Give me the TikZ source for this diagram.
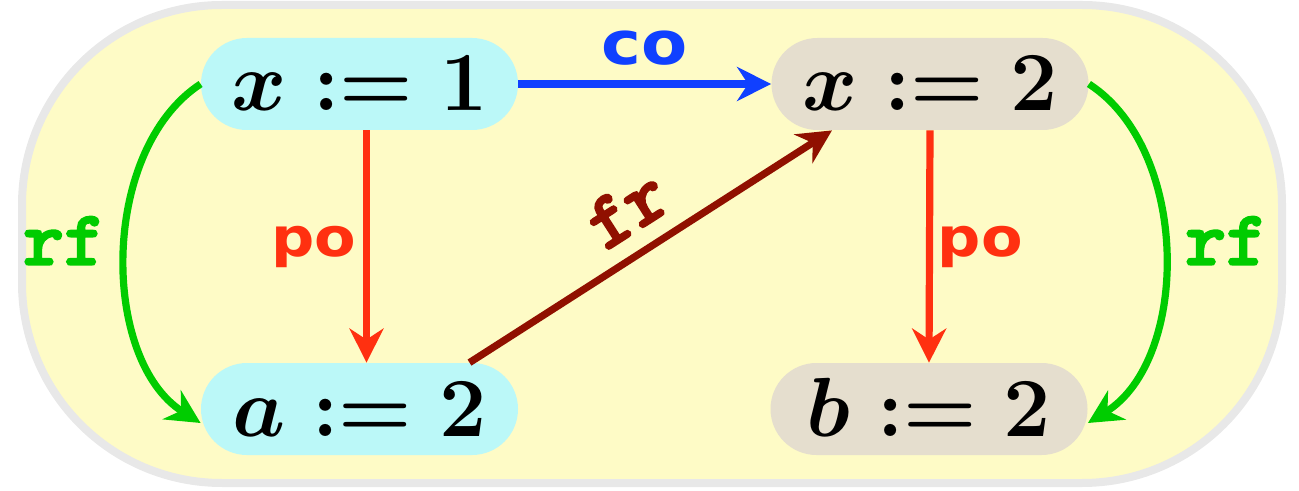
\documentclass[tikz,border=0pt]{standalone}
\usepackage{fix-cm}
\usepackage{graphicx}
\usepackage{fontspec}
\usetikzlibrary{arrows.meta}
\newfontfamily\lblsansfont{DejaVu Sans Bold}
\newfontfamily\lblmonofont{lmmonolt10-bold.otf}[BoldFont=lmmonolt10-bold.otf, BoldFeatures={FakeBold=2.5}]
\definecolor{evcyan}{RGB}{187,248,248}
\definecolor{evbeige}{RGB}{229,222,206}
\definecolor{blobyellow}{RGB}{254,251,198}
\definecolor{blobgray}{RGB}{232,232,232}
\definecolor{coblue}{RGB}{16,64,255}
\definecolor{pored}{RGB}{255,48,16}
\definecolor{frred}{RGB}{144,16,0}
\definecolor{rfgreen}{RGB}{0,204,0}
\newcommand\sanslbl[2]{\scalebox{1.12}[1]{\lblsansfont\fontsize{#1}{#1}\selectfont #2}}
\newcommand\monolbl[1]{{\lblmonofont\bfseries\fontsize{39}{39}\selectfont #1}}
\tikzset{
  ev/.style={rounded corners=23pt, minimum width=158.5pt, minimum height=46pt,
    inner sep=0pt, text height=27pt, text depth=0pt,
    font=\fontsize{42}{48}\selectfont\boldmath},
  evA/.style={ev, fill=evcyan},
  evB/.style={ev, fill=evbeige},
  rel/.style={line width=3.6pt, -{Stealth[length=17pt,width=17pt,inset=5.5pt]}},
}
\begin{document}
\begin{tikzpicture}[x=0.5pt,y=-0.5pt]
\useasboundingbox (0,0) rectangle (1299,491);
\path[fill=blobyellow, draw=blobgray, line width=4pt, rounded corners=100pt]
  (22,5) rectangle (1282,483);
\node[evA] (x1) at (359.5,84) {$x := 1$};
\node[evB] (x2) at (930,84) {$x := 2$};
\node[evA] (a2) at (359.5,409) {$a := 2$};
\node[evB] (b2) at (929,409) {$b := 2$};
\draw[rel, coblue] (x1) -- (x2)
  node[midway, yshift=18pt, text=coblue] {\sanslbl{30}{co}};
\draw[rel, pored] ([xshift=3.5pt]x1.south) -- ([xshift=3.5pt]a2.north)
  node[midway, left=0pt, text=pored] {\sanslbl{27}{po}};
\draw[rel, pored] (x2.south) -- (b2.north)
  node[midway, right=-1pt, text=pored] {\sanslbl{27}{po}};
\draw[rel, frred] ([xshift=55pt]a2.north) -- ([xshift=-49pt]x2.south)
  node[pos=0.5, sloped, above=5pt, text=frred] {\monolbl{fr}};
\draw[rel, rfgreen] (x1.west) .. controls +(-101,66) and +(-100,-63) .. ([yshift=-7pt]a2.west)
  node[pos=0.5, left=5pt, yshift=7pt, text=rfgreen] {\monolbl{rf}};
\draw[rel, rfgreen] (x2.east) .. controls +(102,66) and +(102,-63) .. ([yshift=-7pt]b2.east)
  node[pos=0.5, right=5pt, yshift=7pt, text=rfgreen] {\monolbl{rf}};
\end{tikzpicture}
\end{document}
